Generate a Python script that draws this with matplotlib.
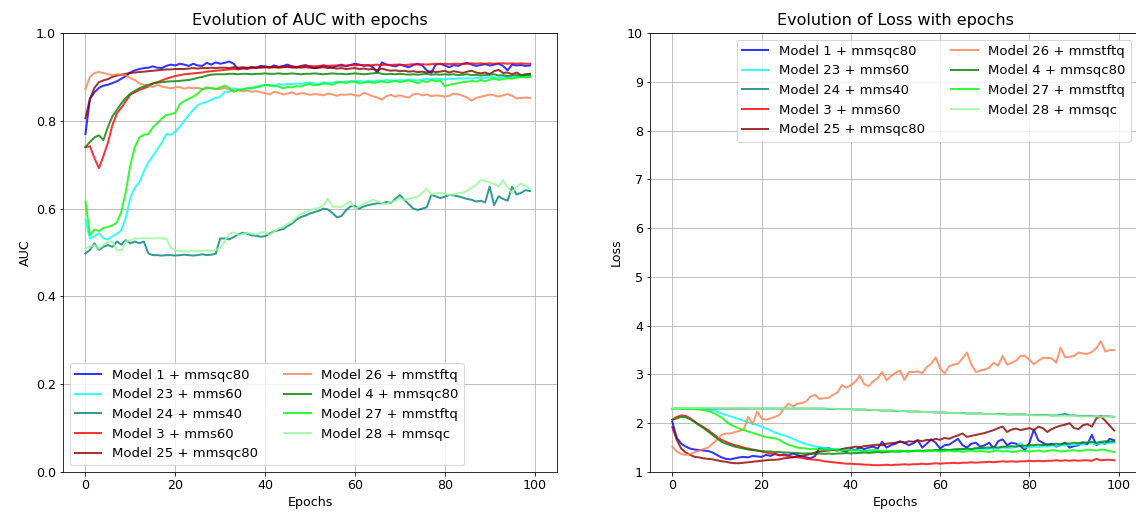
import numpy as np
import matplotlib
matplotlib.use("Agg")
import matplotlib.pyplot as plt

epochs = np.arange(100)

labels = ["Model 1 + mmsqc80", "Model 23 + mms60", "Model 24 + mms40",
          "Model 3 + mms60", "Model 25 + mmsqc80", "Model 26 + mmstftq",
          "Model 4 + mmsqc80", "Model 27 + mmstftq", "Model 28 + mmsqc"]
colors = ["blue", "cyan", "teal", "red", "darkred", "coral",
          "green", "lime", "palegreen"]

# ---- AUC per epoch ----
auc_m1 = [0.77, 0.85, 0.865, 0.875, 0.88, 0.882, 0.886, 0.89, 0.896, 0.902,
          0.91, 0.915, 0.918, 0.92, 0.921, 0.924, 0.921, 0.92, 0.925, 0.928,
          0.926, 0.93, 0.928, 0.925, 0.93, 0.926, 0.925, 0.932, 0.928, 0.933,
          0.93, 0.932, 0.935, 0.93, 0.917, 0.92, 0.918, 0.922, 0.921, 0.925,
          0.924, 0.922, 0.926, 0.923, 0.925, 0.928, 0.924, 0.921, 0.925, 0.927,
          0.923, 0.92, 0.922, 0.926, 0.924, 0.921, 0.925, 0.928, 0.924, 0.927,
          0.93, 0.928, 0.925, 0.927, 0.922, 0.91, 0.933, 0.928, 0.926, 0.924,
          0.928, 0.925, 0.922, 0.927, 0.93, 0.926, 0.915, 0.909, 0.928, 0.93,
          0.926, 0.922, 0.927, 0.925, 0.93, 0.932, 0.928, 0.925, 0.927, 0.929,
          0.926, 0.928, 0.93, 0.925, 0.915, 0.928, 0.926, 0.927, 0.925, 0.926]
auc_m23 = [0.575, 0.532, 0.537, 0.544, 0.532, 0.53, 0.537, 0.542, 0.551, 0.58,
           0.625, 0.648, 0.66, 0.685, 0.705, 0.72, 0.735, 0.75, 0.77, 0.768,
           0.775, 0.787, 0.8, 0.813, 0.825, 0.836, 0.84, 0.843, 0.848, 0.852,
           0.855, 0.866, 0.866, 0.874, 0.872, 0.87, 0.874, 0.873, 0.878, 0.88,
           0.882, 0.88, 0.878, 0.884, 0.882, 0.884, 0.883, 0.885, 0.884, 0.886,
           0.887, 0.885, 0.884, 0.888, 0.886, 0.887, 0.889, 0.888, 0.89, 0.889,
           0.89, 0.891, 0.889, 0.891, 0.89, 0.892, 0.891, 0.893, 0.892, 0.891,
           0.893, 0.892, 0.894, 0.893, 0.892, 0.894, 0.895, 0.894, 0.896, 0.895,
           0.894, 0.896, 0.895, 0.897, 0.896, 0.897, 0.896, 0.898, 0.897, 0.898,
           0.9, 0.899, 0.897, 0.9, 0.899, 0.898, 0.9, 0.901, 0.9, 0.9]
auc_m24 = [0.498, 0.506, 0.521, 0.506, 0.513, 0.517, 0.513, 0.525, 0.518, 0.528,
           0.521, 0.525, 0.521, 0.525, 0.498, 0.494, 0.494, 0.493, 0.494, 0.494,
           0.493, 0.494, 0.495, 0.494, 0.493, 0.494, 0.496, 0.494, 0.495, 0.497,
           0.532, 0.532, 0.53, 0.535, 0.541, 0.545, 0.543, 0.539, 0.538, 0.536,
           0.537, 0.543, 0.548, 0.551, 0.553, 0.56, 0.566, 0.575, 0.581, 0.584,
           0.589, 0.592, 0.595, 0.6, 0.598, 0.59, 0.58, 0.583, 0.596, 0.605,
           0.606, 0.6, 0.605, 0.608, 0.61, 0.612, 0.612, 0.615, 0.613, 0.622,
           0.631, 0.62, 0.61, 0.6, 0.597, 0.6, 0.603, 0.631, 0.628, 0.624,
           0.627, 0.631, 0.63, 0.628, 0.625, 0.622, 0.62, 0.616, 0.618, 0.614,
           0.65, 0.608, 0.628, 0.622, 0.618, 0.65, 0.632, 0.636, 0.642, 0.64]
auc_m3 = [0.74, 0.742, 0.715, 0.692, 0.72, 0.75, 0.79, 0.817, 0.83, 0.845,
          0.86, 0.865, 0.87, 0.874, 0.878, 0.885, 0.888, 0.892, 0.896, 0.899,
          0.902, 0.904, 0.906, 0.907, 0.908, 0.909, 0.91, 0.912, 0.913, 0.914,
          0.915, 0.916, 0.917, 0.918, 0.918, 0.919, 0.92, 0.92, 0.921, 0.921,
          0.922, 0.922, 0.923, 0.922, 0.923, 0.924, 0.924, 0.923, 0.924, 0.925,
          0.925, 0.924, 0.925, 0.926, 0.925, 0.926, 0.926, 0.925, 0.926, 0.927,
          0.926, 0.927, 0.927, 0.926, 0.927, 0.928, 0.927, 0.928, 0.927, 0.928,
          0.928, 0.927, 0.928, 0.929, 0.928, 0.929, 0.928, 0.929, 0.93, 0.929,
          0.93, 0.929, 0.93, 0.93, 0.929, 0.93, 0.931, 0.93, 0.931, 0.93,
          0.931, 0.93, 0.931, 0.931, 0.93, 0.931, 0.93, 0.931, 0.93, 0.93]
auc_m25 = [0.806, 0.85, 0.875, 0.888, 0.892, 0.895, 0.9, 0.903, 0.905, 0.907,
           0.909, 0.91, 0.911, 0.912, 0.913, 0.914, 0.915, 0.916, 0.917, 0.917,
           0.918, 0.918, 0.918, 0.919, 0.92, 0.919, 0.92, 0.92, 0.921, 0.92,
           0.921, 0.921, 0.92, 0.922, 0.921, 0.922, 0.921, 0.922, 0.921, 0.922,
           0.922, 0.921, 0.922, 0.921, 0.922, 0.923, 0.921, 0.922, 0.921, 0.922,
           0.921, 0.92, 0.921, 0.922, 0.92, 0.921, 0.919, 0.92, 0.918, 0.919,
           0.92, 0.918, 0.919, 0.917, 0.918, 0.915, 0.919, 0.916, 0.914, 0.915,
           0.913, 0.914, 0.912, 0.913, 0.911, 0.912, 0.91, 0.913, 0.911, 0.912,
           0.914, 0.91, 0.913, 0.911, 0.909, 0.912, 0.914, 0.91, 0.908, 0.91,
           0.906, 0.913, 0.916, 0.909, 0.91, 0.906, 0.91, 0.904, 0.906, 0.907]
auc_m26 = [0.872, 0.9, 0.909, 0.911, 0.909, 0.906, 0.904, 0.906, 0.905, 0.904,
           0.897, 0.893, 0.885, 0.882, 0.88, 0.877, 0.882, 0.878, 0.876, 0.874,
           0.876, 0.877, 0.873, 0.876, 0.874, 0.875, 0.872, 0.876, 0.874, 0.873,
           0.872, 0.875, 0.871, 0.869, 0.87, 0.867, 0.869, 0.866, 0.868, 0.865,
           0.863, 0.86, 0.866, 0.864, 0.86, 0.862, 0.865, 0.86, 0.863, 0.862,
           0.859, 0.861, 0.86, 0.858, 0.862, 0.86, 0.857, 0.86, 0.859, 0.861,
           0.858, 0.857, 0.864, 0.86, 0.856, 0.853, 0.848, 0.856, 0.859, 0.855,
           0.858, 0.855, 0.853, 0.86, 0.862, 0.858, 0.86, 0.856, 0.858, 0.857,
           0.855, 0.857, 0.862, 0.86, 0.857, 0.853, 0.846, 0.852, 0.855, 0.857,
           0.86, 0.858, 0.855, 0.858, 0.861, 0.857, 0.851, 0.852, 0.853, 0.852]
auc_m4 = [0.74, 0.752, 0.762, 0.767, 0.756, 0.786, 0.81, 0.825, 0.84, 0.852,
          0.862, 0.868, 0.874, 0.878, 0.882, 0.885, 0.887, 0.888, 0.889, 0.89,
          0.89, 0.891, 0.892, 0.893, 0.895, 0.898, 0.9, 0.903, 0.905, 0.906,
          0.906, 0.906, 0.907, 0.907, 0.906, 0.907, 0.907, 0.906, 0.907, 0.907,
          0.908, 0.907, 0.907, 0.908, 0.907, 0.907, 0.908, 0.907, 0.906, 0.907,
          0.907, 0.908, 0.907, 0.906, 0.907, 0.908, 0.907, 0.907, 0.906, 0.907,
          0.908, 0.907, 0.906, 0.907, 0.908, 0.91, 0.907, 0.906, 0.907, 0.906,
          0.907, 0.906, 0.905, 0.906, 0.905, 0.906, 0.907, 0.905, 0.906, 0.905,
          0.906, 0.905, 0.906, 0.904, 0.905, 0.906, 0.904, 0.905, 0.903, 0.904,
          0.905, 0.906, 0.903, 0.904, 0.902, 0.903, 0.904, 0.903, 0.904, 0.904]
auc_m27 = [0.616, 0.54, 0.552, 0.549, 0.556, 0.558, 0.562, 0.568, 0.593, 0.64,
           0.7, 0.74, 0.762, 0.768, 0.77, 0.785, 0.795, 0.805, 0.813, 0.815,
           0.818, 0.838, 0.845, 0.85, 0.855, 0.862, 0.872, 0.874, 0.875, 0.872,
           0.876, 0.88, 0.875, 0.866, 0.87, 0.872, 0.874, 0.875, 0.876, 0.878,
           0.882, 0.881, 0.88, 0.878, 0.874, 0.877, 0.876, 0.879, 0.878, 0.882,
           0.884, 0.881, 0.882, 0.885, 0.884, 0.882, 0.887, 0.888, 0.886, 0.89,
           0.889, 0.885, 0.887, 0.889, 0.886, 0.888, 0.89, 0.887, 0.889, 0.891,
           0.888, 0.89, 0.892, 0.889, 0.885, 0.891, 0.888, 0.893, 0.89, 0.892,
           0.879, 0.882, 0.884, 0.886, 0.888, 0.889, 0.891, 0.889, 0.893, 0.89,
           0.894, 0.896, 0.893, 0.895, 0.897, 0.896, 0.898, 0.9, 0.899, 0.9]
auc_m28 = [0.509, 0.513, 0.517, 0.509, 0.517, 0.525, 0.525, 0.505, 0.506, 0.525,
           0.528, 0.532, 0.532, 0.533, 0.532, 0.532, 0.533, 0.532, 0.532, 0.51,
           0.505, 0.503, 0.503, 0.502, 0.503, 0.504, 0.503, 0.505, 0.503, 0.506,
           0.51, 0.525, 0.543, 0.546, 0.54, 0.542, 0.545, 0.543, 0.541, 0.545,
           0.547, 0.54, 0.548, 0.555, 0.558, 0.565, 0.57, 0.58, 0.588, 0.593,
           0.596, 0.6, 0.602, 0.608, 0.623, 0.604, 0.605, 0.603, 0.61, 0.616,
           0.6, 0.605, 0.612, 0.615, 0.62, 0.617, 0.613, 0.61, 0.615, 0.618,
           0.623, 0.62, 0.622, 0.625, 0.627, 0.636, 0.646, 0.632, 0.635, 0.636,
           0.634, 0.631, 0.632, 0.635, 0.636, 0.64, 0.648, 0.654, 0.665, 0.663,
           0.66, 0.656, 0.65, 0.665, 0.648, 0.635, 0.65, 0.657, 0.652, 0.645]

# ---- Loss per epoch ----
loss_m1 = [2.03, 1.7, 1.58, 1.52, 1.48, 1.46, 1.45, 1.44, 1.43, 1.4,
           1.35, 1.3, 1.27, 1.26, 1.28, 1.3, 1.31, 1.3, 1.33, 1.32,
           1.31, 1.35, 1.33, 1.37, 1.34, 1.36, 1.34, 1.38, 1.35, 1.32,
           1.3, 1.28, 1.33, 1.5, 1.48, 1.49, 1.45, 1.46, 1.44, 1.42,
           1.47, 1.45, 1.5, 1.47, 1.5, 1.52, 1.48, 1.62, 1.5, 1.55,
           1.58, 1.63, 1.6, 1.55, 1.59, 1.65, 1.5, 1.58, 1.67, 1.6,
           1.48, 1.55, 1.56, 1.62, 1.68, 1.55, 1.5, 1.58, 1.6, 1.52,
           1.55, 1.6, 1.48, 1.63, 1.67, 1.55, 1.6, 1.58, 1.53, 1.45,
           1.6, 1.87, 1.65, 1.6, 1.55, 1.58, 1.52, 1.55, 1.6, 1.5,
           1.53, 1.55, 1.6, 1.57, 1.76, 1.55, 1.6, 1.58, 1.68, 1.65]
loss_m23 = [2.3, 2.3, 2.3, 2.3, 2.3, 2.3, 2.3, 2.3, 2.29, 2.27,
            2.24, 2.2, 2.17, 2.14, 2.11, 2.08, 2.05, 2.02, 1.99, 1.96,
            1.93, 1.89, 1.85, 1.81, 1.78, 1.75, 1.72, 1.68, 1.64, 1.6,
            1.57, 1.55, 1.52, 1.51, 1.49, 1.48, 1.47, 1.47, 1.46, 1.45,
            1.45, 1.44, 1.44, 1.43, 1.43, 1.42, 1.43, 1.42, 1.42, 1.43,
            1.42, 1.43, 1.42, 1.43, 1.43, 1.44, 1.43, 1.44, 1.44, 1.45,
            1.44, 1.45, 1.45, 1.46, 1.45, 1.46, 1.47, 1.46, 1.47, 1.48,
            1.47, 1.48, 1.49, 1.48, 1.5, 1.49, 1.5, 1.51, 1.6, 1.5,
            1.51, 1.52, 1.51, 1.53, 1.52, 1.54, 1.53, 1.55, 1.54, 1.56,
            1.55, 1.57, 1.56, 1.62, 1.58, 1.57, 1.59, 1.58, 1.6, 1.6]
loss_m24 = [2.29, 2.3, 2.3, 2.3, 2.3, 2.3, 2.3, 2.3, 2.3, 2.3,
            2.3, 2.3, 2.3, 2.3, 2.3, 2.3, 2.3, 2.3, 2.3, 2.3,
            2.3, 2.3, 2.3, 2.3, 2.3, 2.3, 2.3, 2.3, 2.3, 2.3,
            2.3, 2.3, 2.3, 2.3, 2.3, 2.29, 2.29, 2.29, 2.29, 2.29,
            2.29, 2.28, 2.28, 2.28, 2.27, 2.27, 2.27, 2.26, 2.26, 2.26,
            2.25, 2.25, 2.25, 2.24, 2.24, 2.24, 2.23, 2.23, 2.23, 2.22,
            2.22, 2.22, 2.21, 2.21, 2.21, 2.21, 2.2, 2.2, 2.2, 2.2,
            2.19, 2.19, 2.19, 2.19, 2.19, 2.18, 2.18, 2.18, 2.18, 2.18,
            2.17, 2.17, 2.17, 2.17, 2.17, 2.16, 2.16, 2.17, 2.19, 2.16,
            2.16, 2.15, 2.15, 2.15, 2.15, 2.14, 2.14, 2.14, 2.14, 2.13]
loss_m3 = [2.07, 2.13, 2.16, 2.15, 2.1, 2.03, 1.97, 1.92, 1.86, 1.79,
           1.72, 1.66, 1.62, 1.58, 1.55, 1.53, 1.5, 1.48, 1.46, 1.44,
           1.42, 1.4, 1.38, 1.37, 1.35, 1.34, 1.33, 1.31, 1.3, 1.29,
           1.27, 1.26, 1.25, 1.24, 1.22, 1.21, 1.2, 1.19, 1.18, 1.17,
           1.17, 1.16, 1.16, 1.15, 1.15, 1.14, 1.14, 1.14, 1.15, 1.14,
           1.15, 1.15, 1.16, 1.15, 1.16, 1.16, 1.17, 1.16, 1.17, 1.18,
           1.17, 1.18, 1.18, 1.19, 1.18, 1.19, 1.19, 1.2, 1.19, 1.2,
           1.2, 1.21, 1.2, 1.21, 1.22, 1.21, 1.22, 1.21, 1.22, 1.22,
           1.23, 1.22, 1.23, 1.22, 1.23, 1.23, 1.24, 1.23, 1.24, 1.23,
           1.24, 1.23, 1.24, 1.24, 1.23, 1.27, 1.24, 1.25, 1.25, 1.24]
loss_m25 = [1.92, 1.66, 1.48, 1.4, 1.35, 1.31, 1.3, 1.28, 1.27, 1.26,
            1.24, 1.22, 1.21, 1.19, 1.18, 1.18, 1.19, 1.2, 1.21, 1.22,
            1.23, 1.24, 1.25, 1.25, 1.26, 1.28, 1.29, 1.3, 1.32, 1.33,
            1.35, 1.37, 1.4, 1.42, 1.43, 1.44, 1.45, 1.44, 1.47, 1.49,
            1.5, 1.52, 1.51, 1.53, 1.54, 1.55, 1.56, 1.55, 1.58, 1.59,
            1.6, 1.62, 1.6, 1.63, 1.62, 1.65, 1.63, 1.66, 1.65, 1.68,
            1.66, 1.7, 1.68, 1.72, 1.75, 1.79, 1.72, 1.74, 1.76, 1.78,
            1.8, 1.83, 1.86, 1.9, 1.93, 1.82, 1.87, 1.89, 1.86, 1.88,
            1.9, 1.86, 1.93, 1.9, 1.82, 1.88, 1.92, 1.95, 1.97, 2.0,
            1.9, 1.88, 1.96, 1.98, 1.93, 2.1, 2.14, 2.05, 1.95, 1.85]
loss_m26 = [1.52, 1.42, 1.37, 1.35, 1.37, 1.4, 1.44, 1.47, 1.5, 1.58,
            1.66, 1.76, 1.79, 1.79, 1.82, 1.84, 1.87, 2.13, 1.98, 2.24,
            2.1, 2.07, 2.1, 2.13, 2.17, 2.3, 2.4, 2.35, 2.4, 2.41,
            2.45, 2.55, 2.58, 2.5, 2.51, 2.52, 2.58, 2.63, 2.78, 2.73,
            2.78, 2.85, 2.98, 2.8, 2.76, 2.86, 2.92, 3.05, 2.88, 2.97,
            3.03, 3.08, 2.89, 3.05, 3.05, 3.06, 3.03, 3.15, 3.22, 3.35,
            3.12, 3.02, 3.17, 3.2, 3.22, 3.33, 3.45, 3.2, 3.05, 3.08,
            3.1, 3.14, 3.24, 3.18, 3.38, 3.2, 3.24, 3.28, 3.38, 3.38,
            3.3, 3.21, 3.28, 3.34, 3.34, 3.33, 3.24, 3.55, 3.35, 3.36,
            3.38, 3.45, 3.43, 3.42, 3.46, 3.54, 3.68, 3.47, 3.5, 3.5]
loss_m4 = [2.07, 2.1, 2.13, 2.12, 2.08, 2.03, 1.96, 1.9, 1.83, 1.76,
           1.69, 1.62, 1.58, 1.55, 1.52, 1.5, 1.48, 1.46, 1.45, 1.44,
           1.43, 1.42, 1.42, 1.41, 1.41, 1.4, 1.4, 1.39, 1.39, 1.38,
           1.38, 1.38, 1.37, 1.38, 1.37, 1.38, 1.37, 1.38, 1.38, 1.39,
           1.38, 1.39, 1.39, 1.4, 1.39, 1.4, 1.41, 1.4, 1.41, 1.42,
           1.42, 1.42, 1.43, 1.42, 1.43, 1.44, 1.43, 1.44, 1.44, 1.45,
           1.45, 1.46, 1.45, 1.46, 1.47, 1.47, 1.48, 1.47, 1.49, 1.49,
           1.5, 1.5, 1.51, 1.5, 1.52, 1.52, 1.53, 1.52, 1.54, 1.54,
           1.55, 1.55, 1.56, 1.55, 1.57, 1.56, 1.58, 1.57, 1.59, 1.58,
           1.6, 1.59, 1.61, 1.6, 1.62, 1.6, 1.62, 1.63, 1.62, 1.63]
loss_m27 = [2.29, 2.3, 2.3, 2.3, 2.3, 2.29, 2.28, 2.27, 2.25, 2.22,
            2.17, 2.12, 2.04, 1.97, 1.93, 1.89, 1.86, 1.83, 1.8, 1.77,
            1.74, 1.72, 1.7, 1.69, 1.66, 1.6, 1.56, 1.53, 1.5, 1.49,
            1.48, 1.47, 1.47, 1.46, 1.46, 1.45, 1.46, 1.45, 1.44, 1.45,
            1.44, 1.45, 1.44, 1.43, 1.44, 1.45, 1.44, 1.43, 1.44, 1.42,
            1.43, 1.44, 1.43, 1.42, 1.44, 1.43, 1.42, 1.43, 1.44, 1.43,
            1.42, 1.43, 1.44, 1.42, 1.43, 1.41, 1.43, 1.44, 1.42, 1.43,
            1.42, 1.41, 1.43, 1.44, 1.42, 1.43, 1.41, 1.42, 1.44, 1.43,
            1.42, 1.43, 1.44, 1.42, 1.43, 1.45, 1.44, 1.42, 1.43, 1.44,
            1.45, 1.43, 1.44, 1.46, 1.45, 1.44, 1.46, 1.45, 1.43, 1.41]
loss_m28 = [2.3, 2.3, 2.31, 2.31, 2.31, 2.31, 2.31, 2.31, 2.31, 2.31,
            2.31, 2.31, 2.31, 2.31, 2.31, 2.31, 2.31, 2.31, 2.3, 2.3,
            2.3, 2.3, 2.3, 2.3, 2.3, 2.3, 2.3, 2.3, 2.3, 2.3,
            2.3, 2.3, 2.3, 2.3, 2.3, 2.3, 2.3, 2.29, 2.29, 2.29,
            2.29, 2.29, 2.28, 2.28, 2.28, 2.27, 2.27, 2.27, 2.26, 2.26,
            2.26, 2.25, 2.25, 2.24, 2.24, 2.24, 2.23, 2.23, 2.23, 2.22,
            2.22, 2.22, 2.21, 2.21, 2.21, 2.2, 2.2, 2.2, 2.2, 2.19,
            2.19, 2.19, 2.19, 2.18, 2.18, 2.18, 2.18, 2.17, 2.17, 2.17,
            2.17, 2.16, 2.16, 2.16, 2.16, 2.16, 2.15, 2.15, 2.15, 2.15,
            2.15, 2.14, 2.14, 2.14, 2.14, 2.14, 2.13, 2.13, 2.13, 2.13]

auc_series = [auc_m1, auc_m23, auc_m24, auc_m3, auc_m25,
              auc_m26, auc_m4, auc_m27, auc_m28]
loss_series = [loss_m1, loss_m23, loss_m24, loss_m3, loss_m25,
               loss_m26, loss_m4, loss_m27, loss_m28]

plt.rcParams["font.size"] = 12.6

fig = plt.figure(figsize=(1136 / 72, 515 / 72), dpi=72)
ax1 = fig.add_axes([63 / 1136, 43 / 515, 494 / 1136, 439 / 515])
ax2 = fig.add_axes([650 / 1136, 43 / 515, 491 / 1136, 439 / 515])

for y, c, lab in zip(auc_series, colors, labels):
    ax1.plot(epochs, y, color=c, alpha=0.8, linewidth=2, label=lab)
ax1.set_ylim(0, 1)
ax1.set_xlim(-5, 105)
ax1.set_title("Evolution of AUC with epochs", fontsize=16, pad=8)
ax1.set_xlabel("Epochs")
ax1.set_ylabel("AUC")
ax1.grid(True)
ax1.legend(loc="lower left", ncol=2, fontsize=13.2)

for y, c, lab in zip(loss_series, colors, labels):
    ax2.plot(epochs, y, color=c, alpha=0.8, linewidth=2, label=lab)
ax2.set_ylim(1, 10)
ax2.set_xlim(-5, 105)
ax2.set_yticks(range(1, 11))
ax2.set_title("Evolution of Loss with epochs", fontsize=16, pad=8)
ax2.set_xlabel("Epochs")
ax2.set_ylabel("Loss")
ax2.grid(True)
ax2.legend(loc="upper right", ncol=2, fontsize=13.2,
           bbox_to_anchor=(0.993, 1.0))

fig.savefig("out.png", dpi=72)
